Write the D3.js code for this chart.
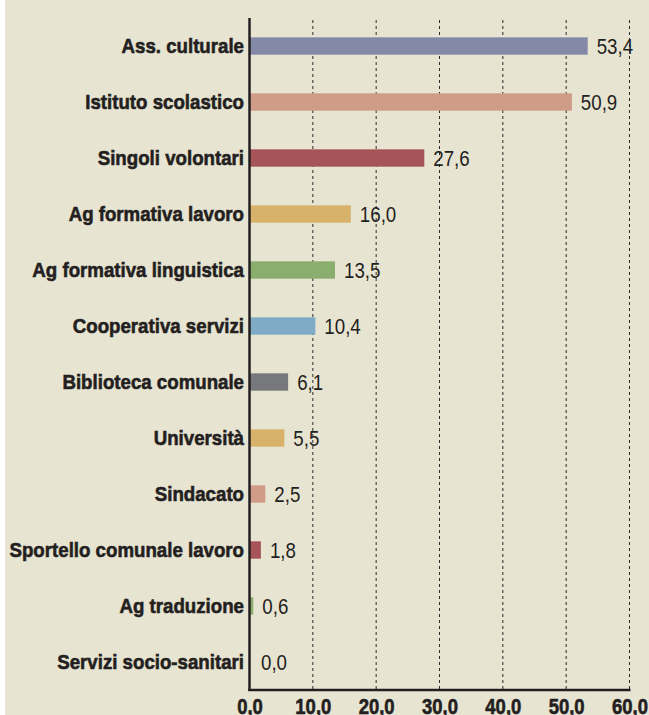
<!DOCTYPE html>
<html>
<head>
<meta charset="utf-8">
<script src="https://cdn.jsdelivr.net/npm/d3@7"></script>
<style>
  html, body { margin: 0; padding: 0; background: #ffffff; }
  svg { display: block; }
</style>
</head>
<body>
<svg id="chart" width="649" height="715"></svg>
<script>
// Categories, top to bottom
const categories = [
  "Ass. culturale",
  "Istituto scolastico",
  "Singoli volontari",
  "Ag formativa lavoro",
  "Ag formativa linguistica",
  "Cooperativa servizi",
  "Biblioteca comunale",
  "Università",
  "Sindacato",
  "Sportello comunale lavoro",
  "Ag traduzione",
  "Servizi socio-sanitari"
];

// Percentages per category
const values = [53.4, 50.9, 27.6, 16.0, 13.5, 10.4, 6.1, 5.5, 2.5, 1.8, 0.6, 0.0];

// Bar fill per category
const colors = [
  "#8589a8", "#cf9c87", "#a65457", "#d8b26b", "#8aae6d", "#7fabc6",
  "#76787c", "#d8b26b", "#d09c88", "#a65457", "#8aae6d", "#8aae6d"
];

// X axis ticks
const xTicks = [0, 10, 20, 30, 40, 50, 60];

const fmt = v => d3.format(".1f")(v).replace(".", ",");

const svg = d3.select("#chart");

// Panel background with narrow white margin on the left
svg.append("rect")
  .attr("x", 5).attr("y", 0)
  .attr("width", 644).attr("height", 715)
  .attr("fill", "#e8e4d2");

const x = d3.scaleLinear().domain([0, 60]).range([249.5, 629.5]);
const y = d3.scaleBand().domain(categories).range([18, 690]).paddingInner(0.69).paddingOuter(0.345);

// Condensed look: a regular sans face squeezed horizontally
const labelFont = "'Liberation Sans', Arial, sans-serif";
const squeeze = 0.89;
const ink = "#231f20";

// Dashed vertical gridlines
svg.append("g")
  .selectAll("line")
  .data(xTicks.filter(t => t > 0))
  .join("line")
  .attr("x1", d => x(d)).attr("x2", d => x(d))
  .attr("y1", 20).attr("y2", 690)
  .attr("stroke", "#2a2a2a")
  .attr("stroke-width", 1)
  .attr("stroke-dasharray", "3,3");

// Bars
svg.append("g")
  .selectAll("rect")
  .data(categories)
  .join("rect")
  .attr("x", x(0))
  .attr("y", d => y(d))
  .attr("width", (d, i) => x(values[i]) - x(0))
  .attr("height", y.bandwidth())
  .attr("fill", (d, i) => colors[i]);

// Value labels
svg.append("g")
  .selectAll("text")
  .data(categories)
  .join("text")
  .attr("transform", (d, i) =>
    `translate(${Math.max(x(values[i]) + 9, 261)},${y(d) + y.bandwidth() / 2}) scale(0.87,1)`)
  .attr("dy", "0.36em")
  .attr("font-family", labelFont)
  .attr("font-size", 21.5)
  .attr("fill", ink)
  .text((d, i) => fmt(values[i]));

// Category axis
const yPad = 5.5;
const gy = svg.append("g")
  .attr("transform", `translate(${x(0)},0)`)
  .call(d3.axisLeft(y).tickSize(0).tickPadding(yPad));
gy.select(".domain").remove();
gy.selectAll("text")
  .attr("x", -yPad / squeeze)
  .attr("transform", `scale(${squeeze},1)`)
  .attr("font-family", labelFont)
  .attr("font-weight", "bold")
  .attr("font-size", 21)
  .attr("fill", ink)
  .attr("stroke", ink)
  .attr("stroke-width", 0.6);

// Value axis
const gx = svg.append("g")
  .attr("transform", "translate(0,690)")
  .call(d3.axisBottom(x).tickValues(xTicks).tickSize(0).tickPadding(9).tickFormat(fmt));
gx.select(".domain").remove();
gx.selectAll("text")
  .attr("transform", "scale(0.86,1)")
  .attr("font-family", labelFont)
  .attr("font-weight", "bold")
  .attr("font-size", 21.5)
  .attr("fill", ink)
  .attr("stroke", ink)
  .attr("stroke-width", 0.6);

// Axis lines
svg.append("line")
  .attr("x1", x(0)).attr("x2", x(0))
  .attr("y1", 18).attr("y2", 691)
  .attr("stroke", ink).attr("stroke-width", 2.5);
svg.append("line")
  .attr("x1", x(0) - 1.25).attr("x2", x(60) + 1)
  .attr("y1", 690).attr("y2", 690)
  .attr("stroke", ink).attr("stroke-width", 2.5);
</script>
</body>
</html>
